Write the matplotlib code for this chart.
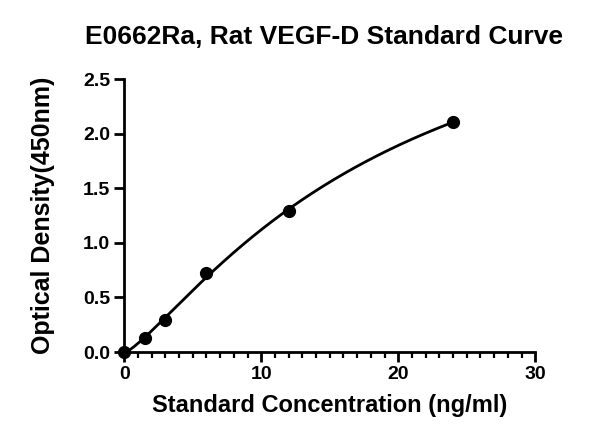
import numpy as np
import matplotlib
matplotlib.use('Agg')
import matplotlib.pyplot as plt
from matplotlib.ticker import MultipleLocator, FormatStrFormatter

plt.rcParams['font.family'] = ['Liberation Sans', 'DejaVu Sans']
plt.rcParams['font.weight'] = 'bold'

# datos
concentracion = [0, 1.5, 3, 6, 12, 24]
densidad = [0.0, 0.131, 0.293, 0.72, 1.29, 2.109]

titulo = 'E0662Ra, Rat VEGF-D Standard Curve'
etiqueta_x = 'Standard Concentration (ng/ml)'
etiqueta_y = 'Optical Density(450nm)'


def logistica(x, p):
    a, b, c, d = p
    return d + (a - d) / (1 + (np.abs(x) / c) ** b)


# ajuste 4PL sencillo (Levenberg-Marquardt con jacobiano numerico)
x = np.array(concentracion, float)
y = np.array(densidad, float)
p = np.array([0.0, 1.3, 20.0, 4.0])
lam = 1e-2
for i in range(500):
    r = y - logistica(x, p)
    J = np.zeros((len(x), 4))
    for k in range(4):
        dp = np.zeros(4)
        dp[k] = 1e-6 * max(1, abs(p[k]))
        J[:, k] = (logistica(x, p + dp) - logistica(x, p)) / dp[k]
    A = J.T @ J
    paso = np.linalg.solve(A + lam * np.diag(np.diag(A) + 1e-12), J.T @ r)
    nuevo = p + paso
    if nuevo[2] > 0 and nuevo[1] > 0 and np.sum((y - logistica(x, nuevo)) ** 2) < np.sum(r ** 2):
        p = nuevo
        lam *= 0.5
    else:
        lam *= 4
xs = np.linspace(0, max(concentracion), 300)
ys = logistica(xs, p)

fig = plt.figure(figsize=(6, 4.44), dpi=100)
ax = fig.add_axes([0.207, 0.207, 0.685, 0.615])

ax.plot(xs, ys, color='black', lw=2, clip_on=False)
ax.plot(concentracion, densidad, 'o', color='black', ms=8.5, clip_on=False, zorder=3)

ax.set_xlim(0, 30)
ax.set_ylim(0, 2.5)
ax.xaxis.set_major_locator(MultipleLocator(10))
ax.xaxis.set_minor_locator(MultipleLocator(1))
ax.yaxis.set_major_locator(MultipleLocator(0.5))
ax.yaxis.set_major_formatter(FormatStrFormatter('%.1f'))

for s in ['top', 'right']:
    ax.spines[s].set_visible(False)
for s in ['left', 'bottom']:
    ax.spines[s].set_linewidth(2)

ax.tick_params(axis='both', which='major', width=2, length=7, labelsize=14, direction='out', pad=3)
ax.tick_params(axis='x', which='minor', width=1.6, length=4, direction='out')
for lab in ax.get_xticklabels() + ax.get_yticklabels():
    lab.set_fontweight('bold')

fig.text(0.54, 0.917, titulo, fontsize=19, fontweight='bold', ha='center', va='center')
ax.set_xlabel(etiqueta_x, fontsize=17, fontweight='bold', labelpad=8)
ax.set_ylabel(etiqueta_y, fontsize=18, fontweight='bold', labelpad=20)

fig.savefig('out.png', dpi=100)
